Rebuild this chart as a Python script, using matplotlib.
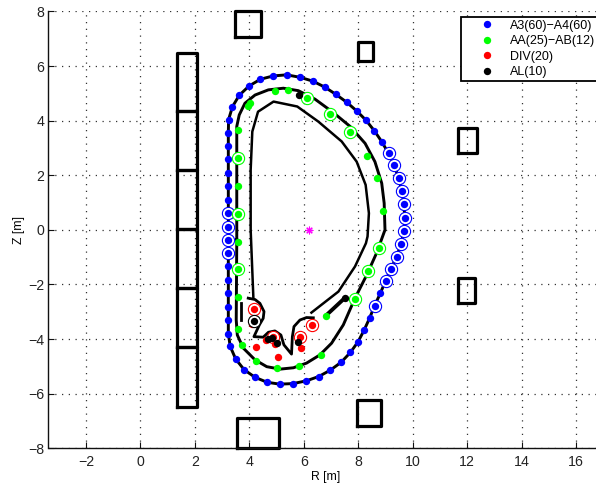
import matplotlib
matplotlib.use("Agg")
import matplotlib.pyplot as plt

plt.rcParams['font.family'] = ['Liberation Sans', 'DejaVu Sans']

# Magnetic sensor positions, clockwise from the lower left of the outer wall
blue_R = [3.23,3.23,3.23,3.23,3.23,3.23,3.23,3.23,3.23,3.23,3.23,3.23,3.23,3.23,3.23,3.23,3.24,3.38,3.63,3.99,4.41,4.88,5.37,5.86,6.33,6.77,7.17,7.57,7.94,8.28,8.59,8.87,9.11,9.32,9.48,9.60,9.68,9.70,9.68,9.57,9.41,9.20,9.00,8.81,8.60,8.42,8.21,7.99,7.71,7.37,6.97,6.55,6.09,5.60,5.11,4.65,4.21,3.81,3.50,3.30]
blue_Z = [-3.80,-3.31,-2.81,-2.32,-1.83,-1.34,-0.85,-0.37,0.12,0.61,1.10,1.59,2.08,2.58,3.06,3.55,4.04,4.51,4.93,5.27,5.52,5.64,5.68,5.59,5.45,5.23,4.97,4.68,4.36,4.02,3.63,3.22,2.80,2.36,1.90,1.43,0.94,0.45,-0.04,-0.51,-0.98,-1.42,-1.87,-2.32,-2.77,-3.22,-3.68,-4.10,-4.49,-4.85,-5.14,-5.37,-5.53,-5.63,-5.65,-5.58,-5.40,-5.12,-4.73,-4.27]
blue_ring_R = [3.23,3.23,3.23,3.23,9.11,9.32,9.48,9.60,9.68,9.70,9.68,9.57,9.41,9.20,9.00,8.60]
blue_ring_Z = [-0.85,-0.37,0.12,0.61,2.80,2.36,1.90,1.43,0.94,0.45,-0.04,-0.51,-0.98,-1.42,-1.87,-2.77]

green_R = [3.60,3.59,3.60,3.60,4.01,3.95,4.94,5.41,6.12,6.96,7.68,8.32,8.70,8.91,3.60,3.59,3.60,3.59,3.73,4.26,5.03,5.84,6.63,6.81,7.88,8.34,8.75]
green_Z = [3.65,2.64,1.60,0.60,4.66,4.55,5.10,5.12,4.82,4.25,3.59,2.71,1.89,0.68,-0.44,-1.44,-2.45,-3.64,-4.20,-4.80,-5.07,-4.98,-4.58,-3.14,-2.52,-1.51,-0.67]
green_ring_R = [3.59,3.60,6.12,6.96,7.68,3.59,7.88,8.34,8.75]
green_ring_Z = [2.64,0.60,4.82,4.25,3.59,-1.44,-2.52,-1.51,-0.67]

red_R = [4.18,4.09,4.61,4.88,4.94,4.23,5.04,5.87,5.89,6.31]
red_Z = [-2.88,-3.44,-4.02,-3.91,-4.18,-4.30,-4.66,-3.91,-4.33,-3.47]
red_ring_R = [4.18,4.88,5.87,6.31]
red_ring_Z = [-2.88,-3.91,-3.91,-3.47]

black_R = [4.16,4.70,4.85,5.00,5.77,7.52,5.81]
black_Z = [-3.32,-4.00,-3.97,-4.14,-4.09,-2.48,4.93]
black_ring_R = [4.16]
black_ring_Z = [-3.32]

axis_R = [6.19]
axis_Z = [0.0]

# Vessel and wall contours
middle_R = [3.54,3.54,3.63,3.84,4.21,4.70,5.25,5.80,6.41,7.08,7.70,8.25,8.61,8.86,8.95,8.98,8.67,8.31,7.88,7.45,7.02,6.59,6.10,5.62,5.13,4.64,4.21,3.78,3.56,3.52,3.54]
middle_Z = [-0.37,3.79,4.21,4.64,4.94,5.13,5.19,5.10,4.79,4.30,3.79,3.17,2.50,1.71,0.98,0.0,-0.85,-1.65,-2.50,-3.48,-4.15,-4.58,-4.88,-5.05,-5.10,-5.01,-4.76,-4.33,-3.85,-3.30,-0.37]
inner_R = [4.15,4.05,4.05,4.11,4.32,4.89,5.76,6.53,7.39,7.94,8.27,8.39,8.34,8.28,7.88,7.27,6.28]
inner_Z = [-2.50,0.0,2.20,3.60,4.33,4.70,4.52,3.97,3.24,2.50,1.65,0.61,-0.24,-0.49,-1.34,-2.26,-3.03]
divertor_R = [3.96,4.21,4.39,4.54,4.51,4.37,4.17,4.51,4.70,4.94,5.16,5.27,5.55,5.58,5.64,5.86,6.10,6.35]
divertor_Z = [-2.50,-2.55,-2.69,-2.99,-3.24,-3.48,-3.91,-3.93,-3.75,-3.70,-3.85,-4.21,-4.55,-3.91,-3.54,-3.30,-3.21,-3.22]
baffle_R = [3.69,3.69]
baffle_Z = [-2.69,-3.30]
plate_R = [6.81,7.52]
plate_Z = [-3.14,-2.48]

# Coils as (R min, R max, Z min, Z max)
coil_Rmin = [1.33,1.33,1.33,1.33,1.33,1.33,3.48,8.00,11.66,11.66,7.96,3.55]
coil_Rmax = [2.07,2.07,2.07,2.07,2.07,2.07,4.42,8.55,12.35,12.28,8.82,5.09]
coil_Zmin = [4.36,2.20,0.04,-2.12,-4.29,-6.48,7.08,6.19,2.82,-2.67,-7.18,-8.0]
coil_Zmax = [6.49,4.36,2.20,0.04,-2.12,-4.29,8.02,6.89,3.74,-1.76,-6.23,-6.89]

x_ticks = [-2,0,2,4,6,8,10,12,14,16]
y_ticks = [-8,-6,-4,-2,0,2,4,6,8]
labels = ['A3(60)\u2212A4(60)', 'AA(25)\u2212AB(12)', 'DIV(20)', 'AL(10)']

W, H = 596, 486
fig = plt.figure(figsize=(W/100, H/100), dpi=100)
ax = fig.add_axes([48.5/W, 37.7/H, 555/W, 436.8/H])
ax.set_xlim(-3.37, 17)
ax.set_ylim(-8, 8)

ax.set_xticks(x_ticks)
ax.set_yticks(y_ticks)
ax.set_xticklabels([str(t).replace('-', '\u2212') for t in x_ticks])
ax.set_yticklabels([str(t).replace('-', '\u2212') for t in y_ticks])
ax.tick_params(direction='in', length=4.5, width=0.8, labelsize=10.2, color='#111111', labelcolor='#222222')
ax.tick_params(axis='x', pad=4.5)
ax.tick_params(axis='y', pad=3)
ax.grid(True, color='#333333', lw=0.9, linestyle=(0, (1, 4.4)))
ax.set_axisbelow(True)
ax.spines['top'].set_visible(False)
ax.spines['right'].set_visible(False)
for s in ('left', 'bottom'):
    ax.spines[s].set_linewidth(1.0)
    ax.spines[s].set_color('#111111')
ax.set_xlabel('R [m]', fontsize=8.8, labelpad=2)
ax.set_ylabel('Z [m]', fontsize=8.8, labelpad=2)

for r0, r1, z0, z1 in zip(coil_Rmin, coil_Rmax, coil_Zmin, coil_Zmax):
    ax.plot([r0, r1, r1, r0, r0], [z0, z0, z1, z1, z0], color='k', lw=2.3, zorder=2, clip_on=False)

ax.plot(blue_R + blue_R[:1], blue_Z + blue_Z[:1], color='k', lw=2.1, zorder=2)
ax.plot(middle_R, middle_Z, color='k', lw=2.1, zorder=2)
ax.plot(inner_R, inner_Z, color='k', lw=1.8, zorder=2)
ax.plot(divertor_R, divertor_Z, color='k', lw=2.0, zorder=2)
ax.plot(baffle_R, baffle_Z, color='k', lw=2.0, zorder=2)
ax.plot(plate_R, plate_Z, color='k', lw=2.8, zorder=2)

dot = 5.3
ring = 8.8
series = [
    (blue_R, blue_Z, blue_ring_R, blue_ring_Z, '#0000ff', labels[0]),
    (green_R, green_Z, green_ring_R, green_ring_Z, '#00ff00', labels[1]),
    (red_R, red_Z, red_ring_R, red_ring_Z, '#ff0000', labels[2]),
    (black_R, black_Z, black_ring_R, black_ring_Z, '#000000', labels[3]),
]
for i, (r, z, rr, rz, c, lab) in enumerate(series):
    ax.plot(rr, rz, ls='none', marker='o', ms=ring, mfc='white', mec=c, mew=0.8, zorder=3 + i)
    ax.plot(r, z, ls='none', marker='o', ms=dot, mfc=c, mec=c, mew=0, zorder=3.5 + i, label=lab)

ax.plot(axis_R, axis_Z, ls='none', marker=(8, 2, 0), ms=5.5, mec='#ff00ff', mew=0.8, zorder=9)

leg = ax.legend(loc='upper left', bbox_to_anchor=(461/W, 1 - 16.7/H), bbox_transform=fig.transFigure,
                borderaxespad=0, fancybox=False, framealpha=1, edgecolor='k', fontsize=9,
                handlelength=3.66, handletextpad=0.02, labelspacing=0.27, borderpad=0.25, numpoints=1)
leg.get_frame().set_linewidth(1.3)
leg.set_zorder(20)

fig.savefig('out.png', dpi=100)
